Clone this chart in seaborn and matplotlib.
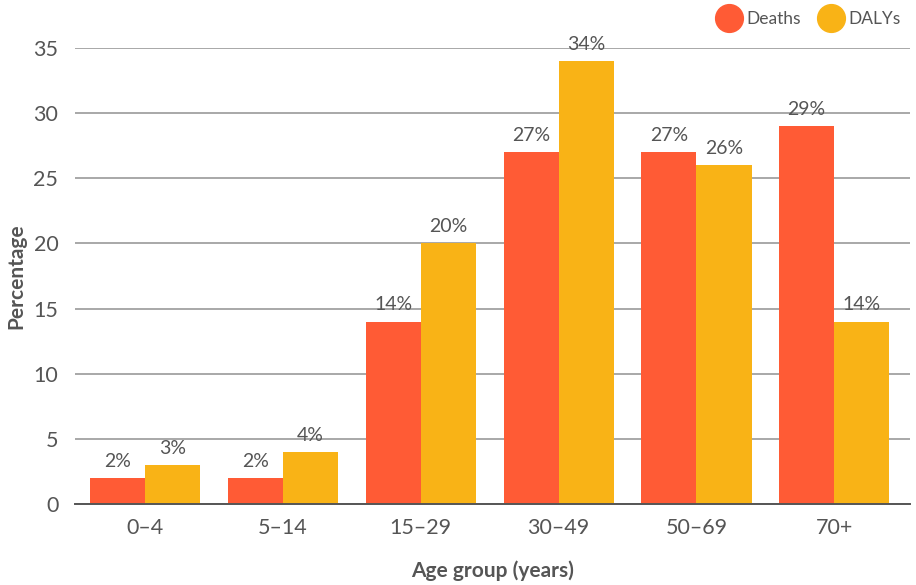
import matplotlib
matplotlib.use("Agg")
import matplotlib.pyplot as plt
from matplotlib.lines import Line2D
import seaborn as sns
import pandas as pd

age_groups = ["0–4", "5–14", "15–29", "30–49", "50–69", "70+"]
deaths = [2, 2, 14, 27, 27, 29]
dalys = [3, 4, 20, 34, 26, 14]
series_names = ["Deaths", "DALYs"]
y_ticks = [0, 5, 10, 15, 20, 25, 30, 35]

colors = {"Deaths": "#FF5B35", "DALYs": "#F9B316"}
text_color = "#555555"

df = pd.DataFrame({
    "age": age_groups * 2,
    "value": deaths + dalys,
    "measure": ["Deaths"] * len(age_groups) + ["DALYs"] * len(age_groups),
})

sns.set_style("white")
plt.rcParams["font.family"] = ["Lato", "DejaVu Sans"]

fig = plt.figure(figsize=(9.16, 5.85), dpi=100)
ax = fig.add_axes([0.0819, 0.1385, 0.9115, 0.7795])

sns.barplot(data=df, x="age", y="value", hue="measure", order=age_groups,
            hue_order=series_names, palette=colors, width=0.8,
            saturation=1, legend=False, linewidth=0, edgecolor="none", ax=ax)

for container in ax.containers:
    ax.bar_label(container, labels=[f"{v:.0f}%" for v in container.datavalues],
                 padding=6, fontsize=14, color=text_color, clip_on=False)

ax.set_ylim(0, 35)
ax.set_xlim(-0.51, 5.55)
ax.set_yticks(y_ticks)
ax.yaxis.grid(True, color="#9a9a9a", linewidth=1.2)
ax.set_axisbelow(True)
for side in ["top", "right", "left"]:
    ax.spines[side].set_visible(False)
ax.spines["bottom"].set_color("#555555")
ax.spines["bottom"].set_linewidth(1.4)
ax.tick_params(axis="both", length=0, labelsize=15.5, colors=text_color, pad=10)
ax.tick_params(axis="y", pad=12)

ax.set_xlabel("Age group (years)", fontsize=15, fontweight="bold",
              color=text_color, labelpad=16)
ax.set_ylabel("Percentage", fontsize=15, fontweight="bold", color=text_color)
ax.yaxis.set_label_coords(-0.058, 0.5)

handles = [Line2D([0], [0], marker="o", linestyle="", markersize=20,
                  markerfacecolor=colors[n], markeredgecolor=colors[n])
           for n in series_names]
fig.legend(handles, series_names, loc="upper right", bbox_to_anchor=(0.995, 1.0),
           ncol=2, frameon=False, fontsize=12.5, labelcolor=text_color,
           handletextpad=0.0, columnspacing=0.7, borderaxespad=0.25)

fig.savefig("out.png", dpi=100)
